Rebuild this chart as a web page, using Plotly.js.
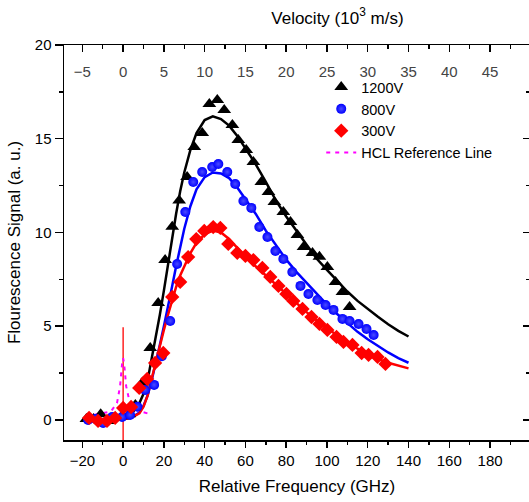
<!DOCTYPE html>
<html>
<head>
<meta charset="utf-8">
<script src="https://cdn.plot.ly/plotly-3.0.1.min.js"></script>
<style>
html,body{margin:0;padding:0;overflow:hidden;background:#fff;}
#chart{width:530px;height:502px;}
</style>
</head>
<body>
<div id="chart"></div>
<script>
// ---- data (x: relative frequency, GHz) ----
const x1200 = [-18, -14.5, -11, -7.5, -4, -0.5, 3, 6, 9.5, 13.3, 17.2, 20.6, 24.1, 27.5, 31.4, 34.9, 38.8, 42.3, 46.2, 49.6, 53.6, 56.5, 60.4, 63.9, 67.8, 71.3, 74.2, 78.6, 82.1, 85.5, 88.5, 92.9, 96.3, 100.2, 104.2, 107.6, 111.1];
const y1200 = [0.05, 0.05, 0.3, -0.05, 0.1, 0.2, 0.3, 0.8, 2.0, 3.84, 6.24, 8.53, 10.3, 11.7, 12.96, 14.56, 15.3, 16.85, 17.07, 16.53, 15.73, 14.93, 14.4, 13.76, 12.69, 12.16, 11.63, 11.09, 10.56, 9.87, 9.23, 8.9, 8.7, 8.16, 7.36, 6.83, 6.03];

const x800 = [-17.2, -13.5, -9.8, -5.4, -0.5, 3.4, 7, 10.8, 15.2, 19, 23.1, 26.5, 30.5, 34.4, 38.8, 43.7, 46.7, 51.1, 55.0, 59.0, 62.9, 66.8, 70.8, 74.7, 78.6, 83.0, 87.0, 90.9, 95.3, 99.3, 103.2, 107.6, 111.1, 115.5, 119.4, 122.9];
const y800 = [0.0, 0.05, -0.16, 0.16, 0.16, 0.27, 0.7, 1.6, 1.87, 3.4, 5.28, 8.32, 11.09, 12.69, 13.23, 13.49, 13.65, 13.23, 12.59, 11.68, 11.31, 10.29, 9.76, 9.01, 8.59, 7.89, 7.15, 6.72, 6.4, 6.13, 5.87, 5.39, 5.28, 5.12, 4.85, 4.53];

const x300 = [-16.7, -12.3, -7.9, -3.9, 0, 3.9, 7.9, 11.8, 15.7, 19.7, 24.1, 28.0, 31.9, 35.9, 39.8, 44.2, 47.7, 51.6, 56.0, 60.0, 63.9, 68.3, 72.2, 76.2, 80.1, 83.5, 88.0, 92.4, 96.3, 100.2, 104.7, 108.1, 112.5, 117.0, 120.4, 124.8, 128.7];
const y300 = [0.11, -0.05, -0.05, 0.11, 0.64, 0.69, 1.71, 2.19, 3.04, 3.57, 6.56, 7.36, 8.69, 9.65, 10.08, 10.29, 10.24, 9.39, 8.91, 8.75, 8.53, 8.11, 7.63, 7.15, 6.72, 6.35, 5.92, 5.49, 5.12, 4.8, 4.43, 4.16, 4.0, 3.57, 3.47, 3.36, 2.99];

// fitted curves
const fitX = [-20, -10, 0, 4, 8, 10, 12, 14, 16, 18, 20, 22, 24, 26, 28, 30, 33, 36, 40, 44, 48, 52, 56, 60, 65, 70, 75, 80, 85, 90, 95, 100, 105, 110, 115, 120, 125, 130, 135, 140];
const fit1200 = [0, 0.02, 0.1, 0.3, 0.9, 1.4, 2.1, 3.2, 4.4, 5.6, 6.9, 8.3, 9.7, 11.0, 12.2, 13.2, 14.4, 15.3, 16.0, 16.2, 16.05, 15.7, 15.15, 14.5, 13.65, 12.7, 11.7, 10.85, 10.1, 9.3, 8.6, 8.0, 7.4, 6.85, 6.35, 5.9, 5.5, 5.1, 4.75, 4.45];
const fit800 = [0, 0.01, 0.04, 0.12, 0.4, 0.75, 1.3, 2.1, 3.0, 4.0, 5.0, 6.0, 7.1, 8.2, 9.2, 10.2, 11.4, 12.3, 12.95, 13.2, 13.15, 12.9, 12.4, 11.8, 11.0, 10.1, 9.3, 8.55, 7.9, 7.3, 6.7, 6.15, 5.65, 5.15, 4.7, 4.3, 3.95, 3.6, 3.3, 3.05];
const fit300 = [0, 0.01, 0.04, 0.12, 0.35, 0.7, 1.3, 2.2, 3.1, 3.95, 4.8, 5.6, 6.4, 7.1, 7.7, 8.2, 8.9, 9.45, 9.9, 10.1, 10.0, 9.65, 9.15, 8.7, 8.2, 7.7, 7.2, 6.7, 6.2, 5.75, 5.3, 4.9, 4.5, 4.15, 3.8, 3.5, 3.25, 3.05, 2.9, 2.75];

// HCL reference
const hclX = [-14, -6, -3, -1.5, -0.5, 0, 0.5, 1.5, 3, 6, 14];
const hclY = [0.28, 0.45, 0.9, 1.8, 3.0, 3.3, 3.0, 1.8, 1.05, 0.55, 0.28];
// vertical marker at zero
const zeroX = [0, 0];
const zeroY = [-1.2, 4.95];

const names = ['1200V', '800V', '300V', 'HCL Reference Line'];
const xRange = [-29, 199.6];
const yRange = [-1.07, 20];
const velPerGHz = 0.25; // 10^3 m/s per GHz on top axis

const FONT = 'Arial, "Liberation Sans", sans-serif';

const traces = [
  {x: fitX, y: fit1200, mode: 'lines', line: {color: '#000000', width: 2.5}, showlegend: false, hoverinfo: 'skip'},
  {x: fitX, y: fit800, mode: 'lines', line: {color: '#0000ff', width: 2.5}, showlegend: false, hoverinfo: 'skip'},
  {x: fitX, y: fit300, mode: 'lines', line: {color: '#ff0000', width: 2.5}, showlegend: false, hoverinfo: 'skip'},
  {x: zeroX, y: zeroY, mode: 'lines', line: {color: '#ff0000', width: 1.3}, showlegend: false, hoverinfo: 'skip'},
  {x: hclX, y: hclY, mode: 'lines', name: names[3], line: {color: '#ff00ff', width: 2, dash: '4px,5px'}, legendrank: 4},
  {x: x1200, y: y1200, mode: 'markers', name: names[0], marker: {symbol: 'triangle-up', size: 12, color: '#000000'}, legendrank: 1},
  {x: x800, y: y800, mode: 'markers', name: names[1], marker: {symbol: 'circle', size: 10, color: '#0000ff', gradient: {type: 'radial', color: '#4a4aff'}}, legendrank: 2},
  {x: x300, y: y300, mode: 'markers', name: names[2], marker: {symbol: 'diamond', size: 11, color: '#ff0000'}, legendrank: 3},
  {x: [], y: [], xaxis: 'x2', yaxis: 'y2', mode: 'markers', showlegend: false, hoverinfo: 'skip'}
];

const layout = {
  width: 530, height: 502,
  margin: {l: 64, r: 0, t: 45, b: 62},
  paper_bgcolor: '#ffffff', plot_bgcolor: '#ffffff',
  font: {family: FONT, size: 15, color: '#000'},
  showlegend: true,
  title: {text: 'Velocity (10<sup>3</sup> m/s)', font: {size: 17, family: FONT, color: '#000'}, x: 311/530, xanchor: 'center', xref: 'paper', y: 0.965, yanchor: 'middle'},
  legend: {x: 0.552, y: 0.934, xanchor: 'left', yanchor: 'top', bgcolor: 'rgba(0,0,0,0)', font: {size: 14.5, family: FONT}, traceorder: 'normal'},
  xaxis: {
    range: xRange, showgrid: false, zeroline: false, showline: true, linecolor: '#000', linewidth: 1.5,
    ticks: 'outside', ticklen: 6, tickwidth: 1.5, tickcolor: '#000', dtick: 20, tick0: 0,
    minor: {dtick: 10, ticks: 'outside', ticklen: 3, tickwidth: 1.5, tickcolor: '#000'},
    tickfont: {size: 15},
    title: {text: 'Relative Frequency (GHz)', font: {size: 17}, standoff: 12}
  },
  xaxis2: {
    overlaying: 'x', side: 'top', anchor: 'y',
    range: [xRange[0]*velPerGHz, xRange[1]*velPerGHz], showgrid: false, zeroline: false, showline: true, linecolor: '#000', linewidth: 1.5,
    ticks: 'inside', ticklen: 7, tickwidth: 1.5, tickcolor: '#000', dtick: 5, tick0: 0,
    minor: {dtick: 2.5, ticks: 'inside', ticklen: 4, tickwidth: 1.5, tickcolor: '#000'},
    ticklabelposition: 'inside', ticklabelstandoff: 14, tickfont: {size: 15}
  },
  yaxis: {
    range: yRange, showgrid: false, zeroline: false, showline: true, linecolor: '#000', linewidth: 1.5,
    ticks: 'outside', ticklen: 8, tickwidth: 1.5, tickcolor: '#000', dtick: 5, tick0: 0,
    minor: {dtick: 2.5, ticks: 'outside', ticklen: 4, tickwidth: 1.5, tickcolor: '#000'},
    tickfont: {size: 15},
    title: {text: 'Flourescence Signal (a. u.)', font: {size: 17}, standoff: 10}
  },
  yaxis2: {
    overlaying: 'y', side: 'right', anchor: 'x',
    range: yRange, showgrid: false, zeroline: false, showline: true, linecolor: '#000', linewidth: 1.5,
    ticks: 'inside', ticklen: 7, tickwidth: 1.5, tickcolor: '#000', dtick: 5, tick0: 0,
    minor: {dtick: 2.5, ticks: 'inside', ticklen: 4, tickwidth: 1.5, tickcolor: '#000'},
    showticklabels: false
  }
};

Plotly.newPlot('chart', traces, layout, {staticPlot: true, displayModeBar: false});
</script>
</body>
</html>
